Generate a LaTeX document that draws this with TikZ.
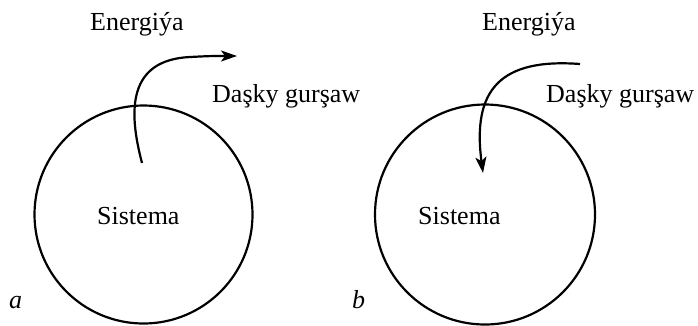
\documentclass[tikz,border=0pt]{standalone}
\usepackage{fontspec}
\setmainfont{Liberation Serif}
\usetikzlibrary{arrows.meta}
\begin{document}
\begin{tikzpicture}[x=1pt,y=-1pt,
  lbl/.style={anchor=base west,inner sep=0pt,font=\rmfamily\fontsize{26}{30}\selectfont},
  ring/.style={line width=2.2pt},
  flow/.style={line width=2.2pt,-{Stealth[length=16pt,width=11pt,inset=4pt]}}]
\useasboundingbox (0,0) rectangle (698,325);
% panel a
\node[ring,circle,draw,minimum size=218pt,inner sep=0pt] (ca) at (143.5,214.5) {};
\node[lbl] (ea) at (90,30) {Energiýa};
\node[lbl] (da) at (212,102) {Daşky gurşaw};
\node[lbl] (sa) at (97,224) {Sistema};
\node[lbl] (la) at (9,308) {\itshape a};
\coordinate (a0) at (142,163);
\coordinate (a1) at (190,57);
\coordinate (a2) at (237,56);
\draw[flow] (a0) .. controls (128,110) and (128,60) .. (a1) .. controls (210,56) .. (a2);
% panel b
\node[ring,circle,draw,minimum size=220pt,inner sep=0pt] (cb) at (485,214.5) {};
\node[lbl] (eb) at (482,30) {Energiýa};
\node[lbl] (db) at (546,102) {Daşky gurşaw};
\node[lbl] (sb) at (418,224) {Sistema};
\node[lbl] (lb) at (352,308) {\itshape b};
\coordinate (b0) at (580,64);
\coordinate (b1) at (483,173);
\draw[flow] (b0) .. controls (500,58) and (472,90) .. (b1);
\end{tikzpicture}
\end{document}
